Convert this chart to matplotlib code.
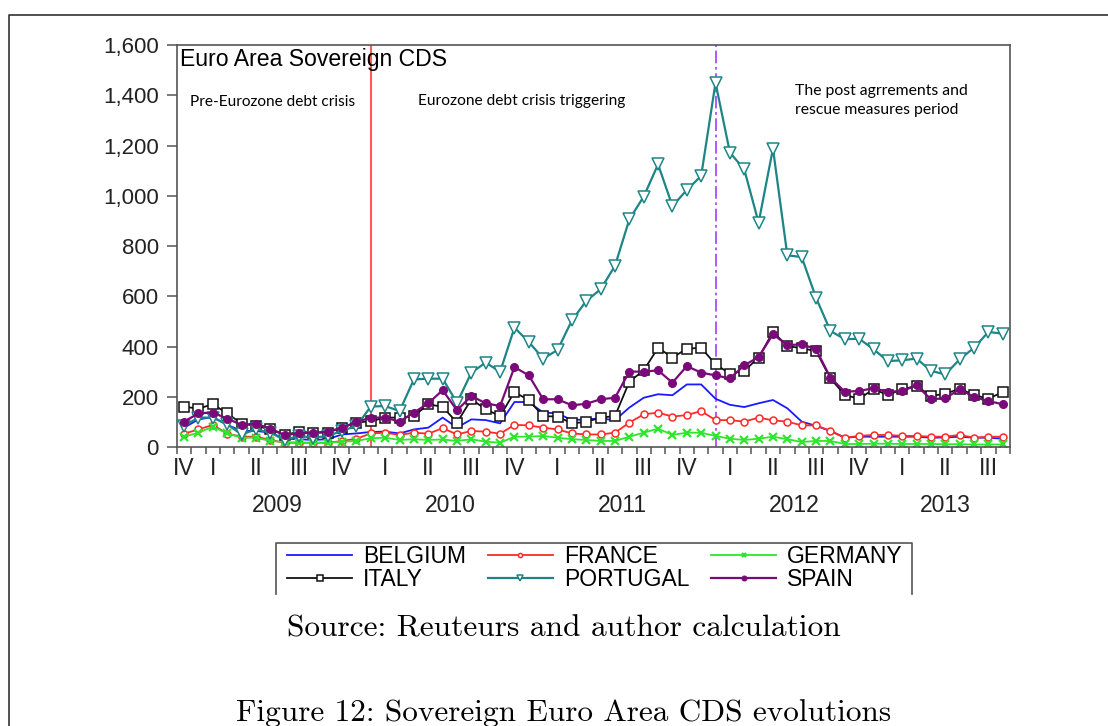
import numpy as np
import pandas as pd
import matplotlib
matplotlib.use('Agg')
import matplotlib.pyplot as plt
from matplotlib.lines import Line2D
from matplotlib.ticker import FuncFormatter

# monthly CDS spreads (bp), Nov 2008 - Aug 2013
months = pd.period_range('2008-11', '2013-08', freq='M')

belgium = [77, 110, 119, 88, 64, 64, 57, 33, 31, 28,
           31, 50, 54, 60, 61, 54, 70, 77, 117, 77,
           110, 107, 94, 179, 179, 137, 134, 107, 110, 113,
           107, 157, 196, 210, 206, 249, 249, 192, 168, 159,
           174, 187, 154, 101, 84, 64, 37, 41, 41, 41,
           41, 41, 37, 38, 41, 37, 37, 33]
france = [53, 70, 88, 53, 41, 41, 28, 17, 17, 17,
          17, 24, 33, 54, 57, 48, 57, 53, 75, 50,
          64, 61, 53, 88, 86, 77, 70, 54, 50, 50,
          57, 97, 130, 137, 121, 127, 143, 107, 107, 101,
          117, 106, 101, 86, 86, 64, 37, 44, 48, 48,
          44, 44, 41, 41, 48, 37, 41, 41]
germany = [41, 57, 81, 54, 37, 37, 24, 20, 17, 17,
           17, 21, 24, 35, 37, 28, 31, 28, 30, 24,
           31, 21, 17, 41, 41, 44, 37, 31, 28, 24,
           24, 41, 57, 73, 48, 57, 57, 44, 33, 28,
           33, 41, 31, 20, 24, 24, 12, 12, 13, 13,
           12, 12, 12, 11, 11, 10, 10, 10]
italy = [160, 153, 170, 134, 93, 84, 70, 48, 61, 57,
         57, 77, 97, 103, 117, 117, 123, 170, 160, 97,
         190, 150, 123, 219, 186, 123, 121, 94, 100, 117,
         123, 260, 305, 395, 356, 391, 395, 329, 292, 303,
         356, 458, 402, 393, 382, 273, 207, 192, 230, 207,
         230, 243, 203, 212, 232, 207, 192, 219]
portugal = [84, 117, 117, 90, 50, 70, 57, 28, 44, 37,
            44, 64, 84, 161, 163, 143, 269, 272, 272, 176,
            296, 336, 299, 475, 418, 352, 386, 504, 581, 628,
            721, 906, 997, 1125, 959, 1023, 1079, 1450, 1172, 1105,
            893, 1188, 763, 756, 594, 462, 429, 431, 389, 342,
            345, 352, 303, 289, 349, 395, 458, 451]
spain = [101, 134, 137, 113, 88, 93, 73, 48, 54, 57,
         61, 77, 100, 117, 117, 101, 137, 174, 226, 146,
         203, 174, 163, 318, 285, 190, 190, 166, 172, 190,
         196, 300, 300, 305, 256, 322, 296, 285, 273, 325,
         358, 449, 405, 409, 389, 276, 220, 223, 234, 220,
         223, 245, 190, 194, 230, 199, 183, 170]

years = [2009, 2010, 2011, 2012, 2013]
crisis_start = pd.Period('2009-12', 'M')
rescue_start = pd.Period('2011-12', 'M')

sans = 'Liberation Sans'
fig = plt.figure(figsize=(11.08, 7.26), dpi=100)
ax = fig.add_axes([0.1597, 0.3843, 0.7518, 0.5537])
x = np.arange(len(months))

l1, = ax.plot(x, belgium, color='#1a1aff', lw=1.3, label='BELGIUM')
l2, = ax.plot(x, france, color='#ff2a2a', lw=1.3, marker='o', ms=5,
              mfc='white', mew=1.1, label='FRANCE')
l3, = ax.plot(x, germany, color='#2ee62e', lw=1.3, marker='x', ms=6,
              mew=1.6, label='GERMANY')
l4, = ax.plot(x, italy, color='#111111', lw=1.3, marker='s', ms=7,
              mfc='white', mew=1.1, label='ITALY')
l5, = ax.plot(x, portugal, color='#1e8585', lw=1.6, marker='v', ms=8,
              mfc='white', mew=1.1, label='PORTUGAL')
l6, = ax.plot(x, spain, color='#7a0a7a', lw=1.6, marker='o', ms=5.5,
              label='SPAIN')

ax.axvline(months.get_loc(crisis_start), color='#ff5c5c', lw=1.5, zorder=1)
ax.axvline(months.get_loc(rescue_start), color='#a64dff', lw=1.3,
           dashes=(7, 2, 1.5, 2), zorder=1)

ax.set_xlim(-0.5, len(months) - 0.5)
ax.set_ylim(0, 1600)
ax.set_yticks(np.arange(0, 1601, 200))
ax.yaxis.set_major_formatter(FuncFormatter(lambda v, p: f'{int(v):,}'))
ax.tick_params(axis='y', length=7, width=1.1, color='#555555', pad=6,
               labelsize=16, labelcolor='#222222')
for t in ax.get_yticklabels():
    t.set_family(sans)
ax.set_xticks([])
ax.set_xticks(np.arange(-0.5, len(months)), minor=True)
ax.tick_params(axis='x', which='minor', length=5, width=1.1, color='#555555')
for s in ax.spines.values():
    s.set_color('#555555')
    s.set_linewidth(1.2)

# quarter and year labels
roman = {1: 'I', 2: 'II', 3: 'III', 4: 'IV'}
qpos = {}
for i, m in enumerate(months):
    if m.month in (1, 4, 7, 10) or i == 0:
        ax.text(i, -0.054, roman[m.quarter], transform=ax.get_xaxis_transform(),
                ha='center', va='center', family=sans, size=16.5, color='#222222')
        qpos.setdefault(m.year, []).append(i)
for yr in years:
    ax.text(np.mean(qpos[yr]), -0.145, str(yr), transform=ax.get_xaxis_transform(),
            ha='center', va='center', family=sans, size=16.5, color='#222222')

ax.text(0.004, 0.963, 'Euro Area Sovereign CDS', transform=ax.transAxes,
        ha='left', va='center', family=sans, size=16.6)
ax.text(0.0156, 0.858, 'Pre-Eurozone debt crisis', transform=ax.transAxes,
        ha='left', va='center', family='Lato', size=11.1)
ax.text(0.289, 0.861, 'Eurozone debt crisis triggering', transform=ax.transAxes,
        ha='left', va='center', family='Lato', size=11.2)
ax.text(0.742, 0.863, 'The post agrrements and\nrescue measures period',
        transform=ax.transAxes, ha='left', va='center', family='Lato',
        size=11.3, linespacing=1.45)

leg = fig.legend(handles=[l1, l4, l2, l5, l3, l6], ncol=3, frameon=False,
                 loc='upper left', bbox_to_anchor=(287 / 1108, 1 - 545 / 726),
                 borderpad=0, borderaxespad=0, handlelength=2.84,
                 handletextpad=0.48, columnspacing=0.95, labelspacing=0.0,
                 markerscale=0.6, prop={'family': sans, 'size': 16.5})

W, H = 1108, 726
def fline(xs, ys, **kw):
    fig.add_artist(Line2D([v / W for v in xs], [1 - v / H for v in ys],
                          transform=fig.transFigure, **kw))

fline([276, 276, 912, 912], [594, 543, 543, 594], color='#555555', lw=1.2)
fline([9, 9, 1108], [726, 15, 15], color='#333333', lw=1.2)

fig.text(564 / W, 1 - 629 / H, 'Source: Reuteurs and author calculation',
         ha='center', va='center', family='cmr10', size=22.6)
fig.text(564 / W, 1 - 721 / H, 'Figure 12: Sovereign Euro Area CDS evolutions',
         ha='center', va='baseline', family='cmr10', size=22.5)

fig.savefig('out.png', dpi=100)
